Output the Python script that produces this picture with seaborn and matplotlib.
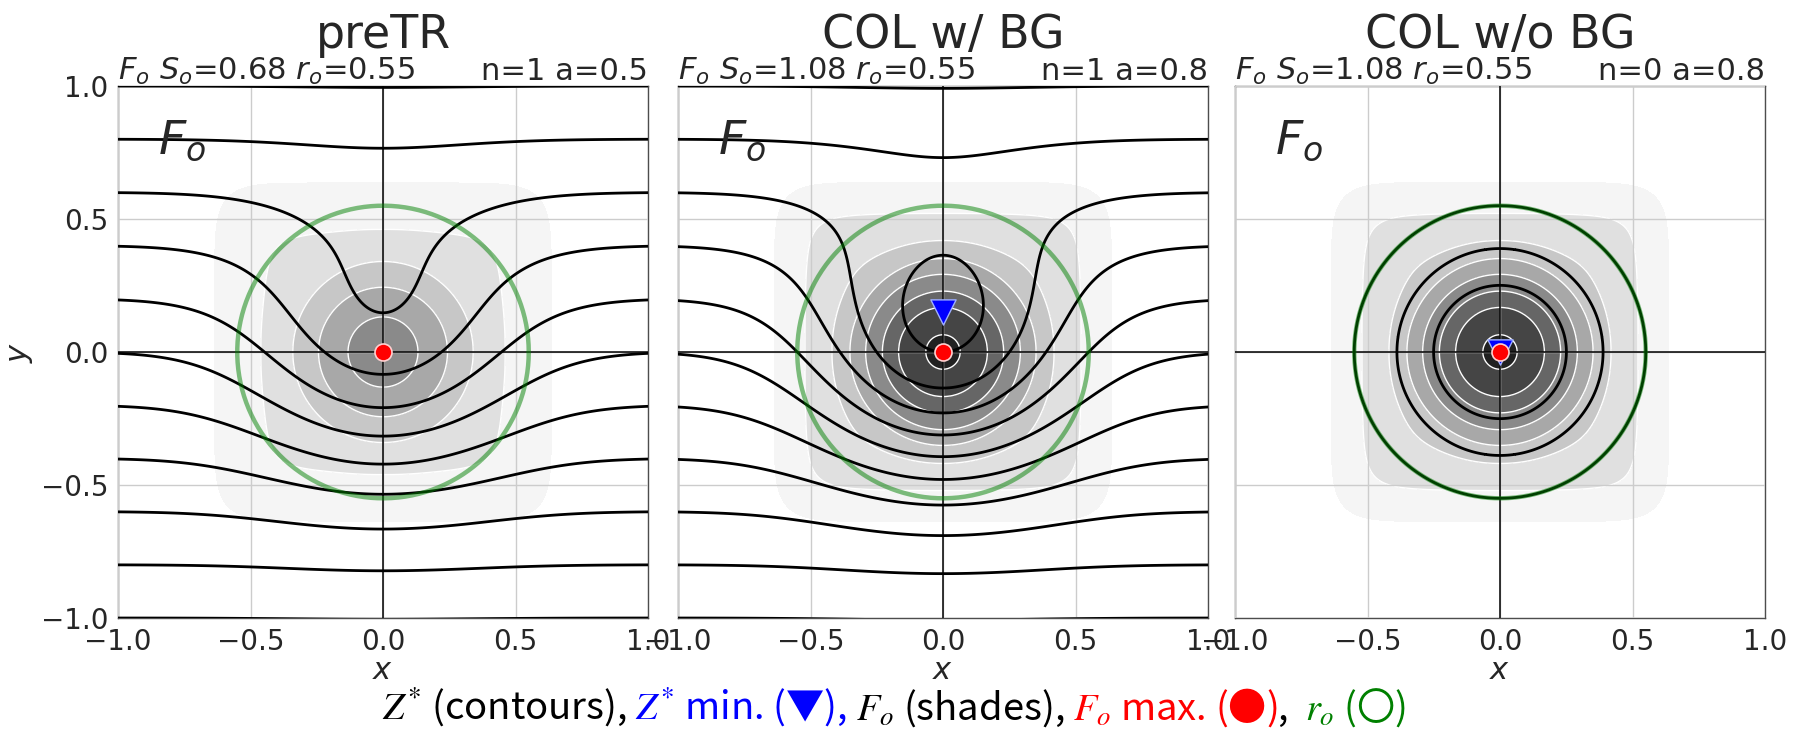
import numpy as np
import pandas as pd
import matplotlib
matplotlib.use("Agg")
import matplotlib.pyplot as plt
import seaborn as sns

# ---------------- data ----------------
titles = ["preTR", "COL w/ BG", "COL w/o BG"]
S_o = [0.68, 1.08, 1.08]          # F_o strength
r_o = [0.55, 0.55, 0.55]          # radius r_o
n_bg = [1, 1, 0]                  # background gradient switch
a_amp = [0.5, 0.8, 0.8]           # depression amplitude
# normalised radial profile of F_o (F_o / S_o against radius), read off the shade rings
r_prof = [0.0, 0.07, 0.13, 0.17, 0.235, 0.29, 0.345, 0.41, 0.465, 0.52, 0.58, 0.64]
f_prof = [1.0, 0.97, 0.885, 0.83, 0.68, 0.56, 0.43, 0.29, 0.215, 0.14, 0.06, 0.0]
z_levels = [-1.8, -1.6, -1.4, -1.2, -1.0, -0.8, -0.6, -0.4, -0.2,
            0.0, 0.2, 0.4, 0.6, 0.8, 1.0]
f_levels = [0.003, 0.15, 0.30, 0.45, 0.60, 0.75, 0.90, 1.05, 1.2]
f_grays = ["0.96", "0.88", "0.78", "0.66", "0.54", "0.40", "0.27", "0.13"]
ticks = [-1.0, -0.5, 0.0, 0.5, 1.0]
tick_labels = ["\u22121.0", "\u22120.5", "0.0", "0.5", "1.0"]

# ---------------- style ----------------
sns.set_style("white")
plt.rcParams["font.family"] = ["DejaVu Sans"]
plt.rcParams["mathtext.fontset"] = "dejavusans"
plt.rcParams["contour.negative_linestyle"] = "solid"

W_FIG, H_FIG = 1804, 736
fig = plt.figure(figsize=(W_FIG / 100, H_FIG / 100), dpi=100)
lefts = [118, 678, 1235]
ax_w, ax_h, ax_b = 530, 532, 118

grid = np.linspace(-1.05, 1.05, 421)
X, Y = np.meshgrid(grid, grid)
R2 = X ** 2 + Y ** 2
R = np.sqrt(R2)
# shade contours turn from circles (inside) to rounded squares (outside)
blend = np.clip((R - 0.38) / 0.4, 0, 1)
p_exp = 2 + 6 * blend * blend * (3 - 2 * blend)
RHO = (np.abs(X) ** p_exp + np.abs(Y) ** p_exp) ** (1.0 / p_exp)

for i in range(3):
    ax = fig.add_axes([lefts[i] / W_FIG, ax_b / H_FIG, ax_w / W_FIG, ax_h / H_FIG])
    k = np.log(4.0) / r_o[i] ** 2
    G = np.exp(-k * R2)
    Z = -(n_bg[i] * Y + a_amp[i] * G)
    F = S_o[i] * np.interp(RHO, r_prof, f_prof, right=0.0)

    ax.contourf(X, Y, F, levels=f_levels, colors=f_grays, zorder=1)
    ax.contour(X, Y, F, levels=f_levels[1:], colors="white", linewidths=1.0, zorder=1.5)
    ax.axhline(0, color="k", lw=1.1, zorder=3)
    ax.axvline(0, color="k", lw=1.1, zorder=3)
    ax.contour(X, Y, Z, levels=z_levels, colors="k", linewidths=2.0,
               linestyles="solid", zorder=4)

    th = np.linspace(0, 2 * np.pi, 400)
    ax.plot(r_o[i] * np.cos(th), r_o[i] * np.sin(th), color="green", alpha=0.5,
            lw=3.2, zorder=5)

    # Z* local minimum (inside r_o)
    inside = R2 < r_o[i] ** 2
    Zm = np.where(inside, Z, np.inf)
    jmin = np.unravel_index(np.argmin(Zm), Z.shape)
    if R2[jmin] < (0.8 * r_o[i]) ** 2:
        sns.scatterplot(x=[X[jmin]], y=[Y[jmin]], marker="v", s=330, color="blue",
                        edgecolor="#9fb0ff", linewidth=1.0, ax=ax, zorder=6, legend=False)
    jmax = np.unravel_index(np.argmax(F), F.shape)
    sns.scatterplot(x=[X[jmax]], y=[Y[jmax]], marker="o", s=150, color="red",
                    edgecolor="#ffd0d0", linewidth=1.2, ax=ax, zorder=7, legend=False)

    ax.set_xlim(-1, 1)
    ax.set_ylim(-1, 1)
    ax.set_xticks(ticks)
    ax.set_xticklabels(tick_labels)
    ax.set_yticks(ticks)
    ax.set_yticklabels(tick_labels)
    ax.grid(True, color="0.8", lw=1.0)
    ax.set_axisbelow(False)
    ax.tick_params(length=0, pad=7, labelsize=20)
    if i > 0:
        ax.tick_params(labelleft=False)
    else:
        ax.set_ylabel("$y$", fontsize=22, labelpad=4)
    ax.set_xlabel("$x$", fontsize=22, labelpad=0)
    for sp in ax.spines.values():
        sp.set_color("0.3")
        sp.set_linewidth(1.0)

    ax.text(0.5, 1 + 38 / ax_h, titles[i], transform=ax.transAxes, ha="center",
            va="baseline", fontsize=33)
    ax.text(0.0, 1 + 6 / ax_h, "$F_o$ $S_o$=%.2f $r_o$=%.2f" % (S_o[i], r_o[i]),
            transform=ax.transAxes, ha="left", va="baseline", fontsize=22)
    ax.text(1.0, 1 + 6 / ax_h, "n=%d a=%g" % (n_bg[i], a_amp[i]),
            transform=ax.transAxes, ha="right", va="baseline", fontsize=22)
    ax.text(-0.85, 0.745, "$F_o$", ha="left", va="baseline", fontsize=34, zorder=8)

# ---------------- multi-coloured caption ----------------
cap_font = dict(fontsize=27.5, family=["Noto Sans CJK JP", "DejaVu Sans"],
                math_fontfamily="stix", va="baseline", ha="left")
pieces = [("$Z^{*}$ (contours),", "black", 1),
          ("$Z^{*}$ min. (\u25BC),", "blue", 1),
          ("$F_o$ (shades),", "black", 1),
          ("$F_o$ max. (\u25CF)", "red", 0),
          (",", "black", 2),
          ("$r_o$ (\u3007)", "green", 0)]
fig.canvas.draw()
rend = fig.canvas.get_renderer()
probe1 = fig.text(0, 0, "a a", **cap_font)
probe2 = fig.text(0, 0, "aa", **cap_font)
space_w = (probe1.get_window_extent(rend).width - probe2.get_window_extent(rend).width)
probe1.remove()
probe2.remove()
xpix = 382
ybase = 0.022
for txt, col, nsp in pieces:
    t = fig.text(xpix / W_FIG, ybase, txt, color=col, **cap_font)
    xpix += t.get_window_extent(rend).width + nsp * space_w

fig.savefig("out.png", dpi=100)
